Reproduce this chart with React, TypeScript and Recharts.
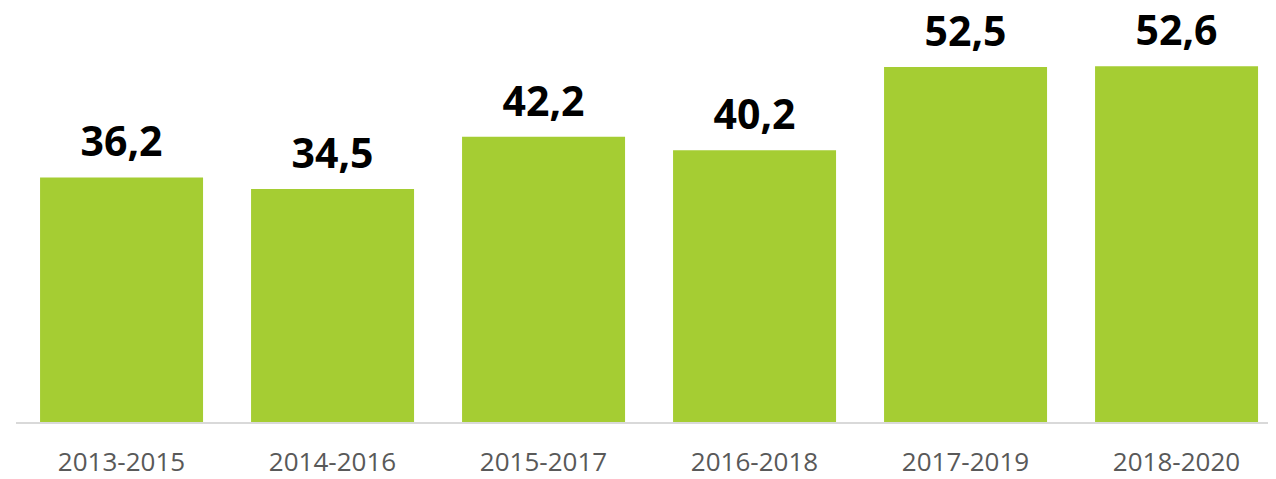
import * as React from "react";
import { BarChart, Bar, XAxis, YAxis, LabelList } from "recharts";

const periods = ["2013-2015", "2014-2016", "2015-2017", "2016-2018", "2017-2019", "2018-2020"];
const values = [36.2, 34.5, 42.2, 40.2, 52.5, 52.6];

const data = periods.map((period, i) => ({ period, value: values[i] }));

const fmt = (v: any) => Number(v).toFixed(1).replace(".", ",");

export default function App() {
  return (
    <div style={{ marginLeft: -8, marginTop: -8, width: 1282, height: 479 }}>
      <BarChart
        width={1282}
        height={479}
        data={data}
        margin={{ top: 16, right: 0, bottom: 0, left: 16 }}
        barCategoryGap="11.4%"
      >
        <XAxis
          dataKey="period"
          height={56}
          tickLine={false}
          axisLine={{ stroke: "#d9d9d9", strokeWidth: 2 }}
          tickMargin={24}
          tick={{ fill: "#595959", fontSize: 26, fontFamily: "Open Sans" }}
          interval={0}
        />
        <YAxis hide domain={[0, 60]} />
        <Bar dataKey="value" fill="#a5cd33" isAnimationActive={false}>
          <LabelList
            dataKey="value"
            position="top"
            offset={21}
            formatter={fmt}
            style={{ fill: "#000000", fontSize: 41, fontWeight: 700, fontFamily: "Open Sans" }}
          />
        </Bar>
      </BarChart>
    </div>
  );
}
